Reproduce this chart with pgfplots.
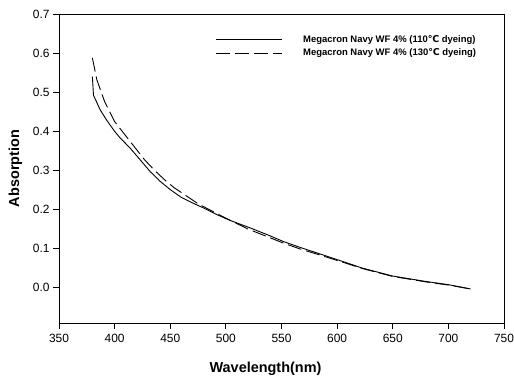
\documentclass[border=0pt]{standalone}
\usepackage{fontspec}
\setmainfont{Liberation Sans}
\newfontfamily\dejavu{DejaVu Sans}
\usepackage{pgfplots}
\pgfplotsset{compat=1.18}
\usetikzlibrary{calc}
\begin{document}
\begin{tikzpicture}
\begin{axis}[
  scale only axis,
  width=445bp, height=309bp,
  xmin=350, xmax=750, ymin=-0.09, ymax=0.7,
  xtick={350,400,...,750},
  ytick={0,0.1,...,0.7},
  tick pos=left,
  tick align=outside,
  major tick length=6bp,
  axis line style={line width=0.9bp},
  tick style={line width=0.8bp, black},
  /pgf/number format/assume math mode=true,
  yticklabel style={/pgf/number format/fixed, /pgf/number format/precision=1, /pgf/number format/fixed zerofill},
  ticklabel style={font=\fontsize{12}{14}\selectfont},
  xticklabel style={yshift=-2bp},
  xlabel={\textbf{Wavelength(nm)}},
  ylabel={\textbf{Absorption}},
  label style={font=\fontsize{14.5}{16}\selectfont},
  xlabel style={yshift=-12bp, xshift=-16bp},
  ylabel style={yshift=4bp},
  legend style={at={(0.344,0.945)}, anchor=north west, draw=none, fill=none,
    font=\fontsize{9.5}{11}\selectfont\bfseries, row sep=1bp,
    /tikz/every odd column/.append style={column sep=19bp}},
  legend cell align=left,
  legend image code/.code={\draw[#1] (0bp,0bp) -- (66bp,0bp);},
]
\addplot[black, line width=0.9bp] coordinates {
(380,0.540) (381,0.492) (383,0.480) (387,0.455) (393,0.428) (400,0.400)
(405,0.383) (414,0.357) (423,0.327) (432,0.297) (441,0.272) (450,0.251)
(460,0.231) (470,0.217) (480,0.204) (492,0.187) (504,0.172) (522,0.153)
(537,0.136) (552,0.118) (567,0.103) (582,0.089) (600,0.072) (623,0.050)
(650,0.030) (680,0.016) (700,0.008) (720,-0.003)};
\addlegendentry{Megacron Navy WF 4\% (110{\dejavu\bfseries ℃} dyeing)}
\addplot[black, line width=0.9bp, dash pattern=on 14bp off 5bp] coordinates {
(380,0.588) (382,0.560) (384,0.532) (391,0.476) (400,0.425) (414,0.374)
(427,0.327) (436,0.300) (445,0.276) (453,0.257) (465,0.234) (475,0.215)
(485,0.200) (500,0.178) (520,0.150) (537,0.131) (552,0.114) (567,0.099)
(582,0.086) (600,0.070) (623,0.049) (650,0.029) (680,0.015) (700,0.007)
(720,-0.003)};
\addlegendentry{Megacron Navy WF 4\% (130{\dejavu\bfseries ℃} dyeing)}
\end{axis}
\pgfresetboundingbox
\path ($(current axis.south west)+(-59bp,-55bp)$) rectangle ($(current axis.north east)+(10bp,14bp)$);
\end{tikzpicture}
\end{document}
